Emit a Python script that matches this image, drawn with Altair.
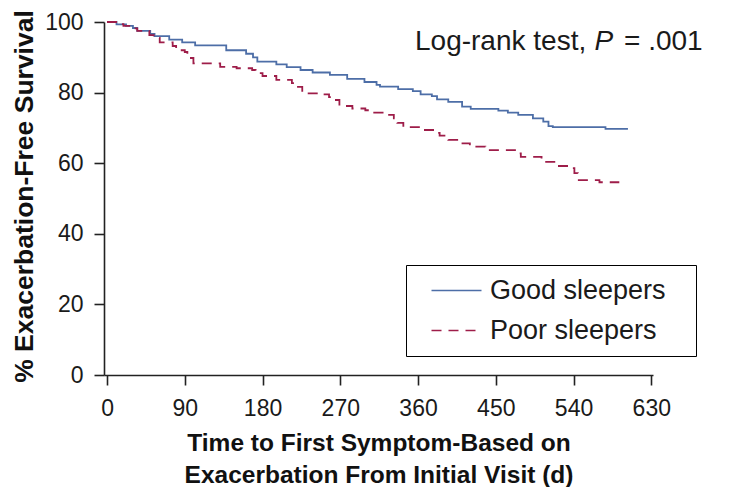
import altair as alt
import pandas as pd

# Kaplan-Meier steps (days, % exacerbation-free)
good_days = [0, 11, 22, 30, 35, 50, 55, 72, 87, 102, 138, 161, 169, 174, 196, 208, 224, 238,
             258, 278, 298, 312, 316, 337, 354, 363, 376, 382, 395, 411, 421, 453, 464, 476,
             493, 505, 511, 516, 577, 603]
good_surv = [100, 99.3, 98.9, 98.3, 97.5, 96.6, 96.0, 95.0, 94.2, 93.4, 92.0, 91.0, 90.0, 88.8,
             88.0, 87.2, 86.4, 85.7, 85.0, 83.9, 83.0, 82.2, 81.7, 81.0, 80.4, 79.5, 79.0, 78.1,
             77.4, 76.0, 75.4, 74.9, 74.3, 73.7, 72.7, 71.8, 70.5, 70.2, 69.7, 69.7]

poor_days = [0, 12, 19, 29, 35, 49, 54, 61, 76, 80, 90, 93, 100, 131, 150, 168, 172, 180, 196,
             214, 218, 226, 249, 257, 263, 269, 284, 299, 308, 319, 332, 336, 343, 363, 381,
             385, 395, 410, 420, 438, 474, 479, 503, 520, 535, 541, 545, 570, 593]
poor_surv = [100, 99.4, 98.9, 98.2, 97.5, 96.3, 95.5, 94.2, 93.2, 92.0, 91.5, 89.8, 88.3, 87.3,
             86.9, 86.4, 85.5, 84.7, 83.6, 82.7, 81.6, 79.8, 79.5, 78.7, 77.9, 76.2, 75.5, 75.0,
             74.3, 73.7, 72.7, 71.4, 70.2, 69.4, 68.6, 67.8, 66.6, 65.6, 64.7, 63.7, 62.8, 61.8,
             60.4, 59.2, 58.6, 57.2, 55.2, 54.6, 54.6]

groups = ["Good sleepers", "Poor sleepers"]
colors = ["#4d6ea7", "#9e1d49"]
dashes = [[1, 0], [10, 7]]

x_ticks = [0, 90, 180, 270, 360, 450, 540, 630]
y_ticks = [0, 20, 40, 60, 80, 100]

ann_text = ["Log-rank test,", "P", "= .001"]
ann_x = [356.5, 564.4, 598.5]
ann_y = [92.1, 92.1, 92.1]
ann_italic = [False, True, False]

FONT = "Liberation Sans"

df = pd.concat([
    pd.DataFrame({"day": good_days, "surv": good_surv, "group": groups[0]}),
    pd.DataFrame({"day": poor_days, "surv": poor_surv, "group": groups[1]}),
])
ann = pd.DataFrame({"text": ann_text, "x": ann_x, "y": ann_y, "italic": ann_italic})

xscale = alt.Scale(domain=[-3.5, 632], nice=False, zero=False)
yscale = alt.Scale(domain=[0, 100], nice=False)

leg = alt.Legend(
    orient="none", legendX=302, legendY=243,
    title="\u00a0", titleOrient="right", titlePadding=18, titleFontSize=1,
    strokeColor="black", fillColor="white", padding=12,
    symbolType="M0,0H5", symbolSize=400, symbolStrokeWidth=1.6,
    symbolFillColor="transparent",
    symbolOffset=0, labelOffset=45, rowPadding=12, labelLimit=600,
    labelFontSize=27, labelFont=FONT, labelColor="#1a1a1a",
)

lines = alt.Chart(df).mark_line(interpolate="step-after", strokeWidth=1.8).encode(
    x=alt.X("day:Q", scale=xscale,
            axis=alt.Axis(values=x_ticks, title=["Time to First Symptom-Based on",
                                                 "Exacerbation From Initial Visit (d)"],
                          titleLineHeight=32, titlePadding=11, titleFontSize=24.5,
                          labelPadding=12)),
    y=alt.Y("surv:Q", scale=yscale,
            axis=alt.Axis(values=y_ticks, title="% Exacerbation-Free Survival",
                          titleX=-72, titleY=174, titleBaseline="alphabetic",
                          titleFontSize=26.5, labelPadding=11)),
    color=alt.Color("group:N", scale=alt.Scale(domain=groups, range=colors), legend=leg),
    strokeDash=alt.StrokeDash("group:N", scale=alt.Scale(domain=groups, range=dashes), legend=leg),
)

ann_norm = alt.Chart(ann).transform_filter("!datum.italic").mark_text(
    align="left", baseline="alphabetic", fontSize=28, font=FONT, color="#1a1a1a"
).encode(x=alt.X("x:Q", scale=xscale), y=alt.Y("y:Q", scale=yscale), text="text:N")

ann_ital = alt.Chart(ann).transform_filter("datum.italic").mark_text(
    align="left", baseline="alphabetic", fontSize=28, font=FONT, fontStyle="italic", color="#1a1a1a"
).encode(x=alt.X("x:Q", scale=xscale), y=alt.Y("y:Q", scale=yscale), text="text:N")

chart = alt.layer(lines, ann_norm, ann_ital).properties(
    width=549, height=353,
    padding={"left": 96, "top": 14, "right": 60, "bottom": 112},
    autosize=alt.AutoSizeParams(type="none"),
).configure_view(stroke=None).configure_axis(
    grid=False, domainColor="#222", domainWidth=1.6, tickColor="#222", tickWidth=1.6,
    tickSize=10, labelFont=FONT, labelFontSize=23, labelColor="#1a1a1a",
    titleFont=FONT, titleFontWeight="bold", titleColor="#111",
)

chart.save("out.html", embed_options={"renderer": "svg", "actions": False})
